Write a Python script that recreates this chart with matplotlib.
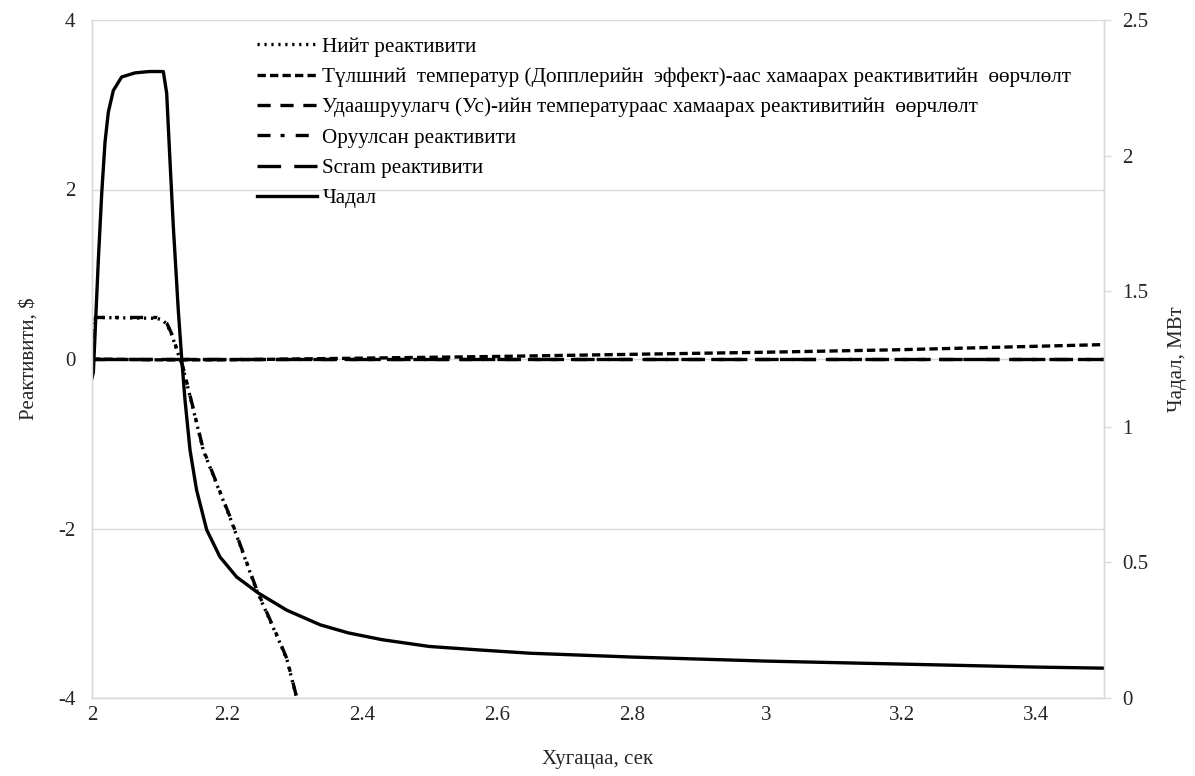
import matplotlib
matplotlib.use("Agg")
import matplotlib.pyplot as plt

plt.rcParams['font.family'] = ['Liberation Serif', 'DejaVu Serif']
plt.rcParams['lines.scale_dashes'] = False

# ---- data ----
t_power = [2.0, 2.002, 2.0093, 2.0144, 2.0193, 2.0242, 2.0316, 2.044, 2.0637, 2.085,
           2.1057, 2.1107, 2.1156, 2.1205, 2.1279, 2.133, 2.1378, 2.1453, 2.155, 2.17,
           2.1897, 2.2145, 2.2465, 2.2886, 2.338, 2.38, 2.43, 2.5, 2.575, 2.65,
           2.8, 3.0, 3.2, 3.4, 3.5]
power_mw = [1.18, 1.2, 1.61, 1.86, 2.05, 2.16, 2.24, 2.29, 2.305, 2.31,
            2.31, 2.23, 1.98, 1.74, 1.43, 1.25, 1.10, 0.914, 0.767, 0.62,
            0.52, 0.446, 0.387, 0.324, 0.27, 0.24, 0.215, 0.19, 0.177, 0.165,
            0.151, 0.136, 0.125, 0.114, 0.11]

t_react = [2.0, 2.005, 2.05, 2.096, 2.104, 2.111, 2.118, 2.126, 2.135, 2.145, 2.165,
           2.2045, 2.244, 2.2786, 2.289, 2.303, 2.306]
inserted_react = [0.0, 0.49, 0.49, 0.49, 0.47, 0.42, 0.3, 0.11, -0.1, -0.42, -1.07,
                  -1.86, -2.72, -3.34, -3.54, -3.98, -4.05]
total_react = [0.0, 0.49, 0.485, 0.48, 0.46, 0.41, 0.29, 0.10, -0.11, -0.43, -1.08,
               -1.87, -2.73, -3.35, -3.55, -3.99, -4.06]

t_feedback = [2.0, 2.1, 2.2, 2.4, 2.6, 2.8, 3.0, 3.2, 3.4, 3.5]
doppler_react = [0.0, -0.01, -0.01, 0.01, 0.03, 0.055, 0.08, 0.11, 0.15, 0.17]
moderator_react = [0.0, 0.0, 0.0, 0.0, 0.0, 0.0, 0.0, 0.0, 0.0, 0.0]
scram_react = [0.0, 0.0, 0.0, 0.0, 0.0, 0.0, 0.0, 0.0, 0.0, 0.0]

x_ticks = [2, 2.2, 2.4, 2.6, 2.8, 3, 3.2, 3.4]
x_tick_labels = ['2', '2.2', '2.4', '2.6', '2.8', '3', '3.2', '3.4']
y1_ticks = [-4, -2, 0, 2, 4]
y1_tick_labels = ['-4', '-2', '0', '2', '4']
y2_ticks = [0, 0.5, 1, 1.5, 2, 2.5]
y2_tick_labels = ['0', '0.5', '1', '1.5', '2', '2.5']

labels = ['Нийт реактивити',
          'Түлшний  температур (Допплерийн  эффект)-аас хамаарах реактивитийн  өөрчлөлт',
          'Удаашруулагч (Ус)-ийн температураас хамаарах реактивитийн  өөрчлөлт',
          'Оруулсан реактивити',
          'Scram реактивити',
          'Чадал']

# ---- figure ----
fig = plt.figure(figsize=(11.95, 7.76), dpi=100)
ax1 = fig.add_axes([92/1195, 1-698/776, (1104-92)/1195, (698-20)/776])
ax2 = ax1.twinx()

grid_c = '#d9d9d9'
txt_c = '#262626'
fs = 15

l1, = ax1.plot(t_react, total_react, color='black', lw=2.4, linestyle=(0, (1.6, 3.4)))
l2, = ax1.plot(t_feedback, doppler_react, color='black', lw=2.4, linestyle=(0, (6, 3)))
l3, = ax1.plot(t_feedback, moderator_react, color='black', lw=2.4, linestyle=(0, (9.5, 7)))
l4, = ax1.plot(t_react, inserted_react, color='black', lw=2.4,
               linestyle=(0, (9.4, 7.2, 2.9, 8)))
l5, = ax1.plot(t_feedback, scram_react, color='black', lw=2.4, linestyle=(0, (17, 9.5)))
l6, = ax2.plot(t_power, power_mw, color='black', lw=2.4)

ax1.set_xlim(2, 3.5)
ax1.set_ylim(-4, 4)
ax2.set_ylim(0, 2.5)

ax1.set_xticks(x_ticks)
ax1.set_xticklabels(x_tick_labels, fontsize=fs, color=txt_c)
ax1.set_yticks(y1_ticks)
ax1.set_yticklabels(y1_tick_labels, fontsize=fs, color=txt_c)
ax2.set_yticks(y2_ticks)
ax2.set_yticklabels(y2_tick_labels, fontsize=fs, color=txt_c)

ax1.yaxis.grid(True, color=grid_c, lw=1)
ax1.set_axisbelow(True)

ax1.tick_params(axis='x', length=0, pad=6)
ax1.tick_params(axis='y', length=0, pad=12)
ax2.tick_params(axis='y', length=5, width=1, color=grid_c, pad=8)

for ax in (ax1, ax2):
    ax.spines['top'].set_visible(False)
    for s in ('left', 'right', 'bottom'):
        ax.spines[s].set_color(grid_c)
        ax.spines[s].set_linewidth(1)

ax1.set_xlabel('Хугацаа, сек', fontsize=fs, color=txt_c, labelpad=18)
ax1.set_ylabel('Реактивити, $', fontsize=fs, color=txt_c, labelpad=14)
ax2.set_ylabel('Чадал, МВт', fontsize=fs, color=txt_c, labelpad=14)

fig.legend([l1, l2, l3, l4, l5, l6], labels, loc='upper left',
           bbox_to_anchor=(257/1195, 1-37/776), frameon=False, fontsize=15.2,
           handlelength=2.85, handletextpad=0.25, labelspacing=0.5,
           borderaxespad=0, borderpad=0)

fig.savefig('out.png', dpi=100)
